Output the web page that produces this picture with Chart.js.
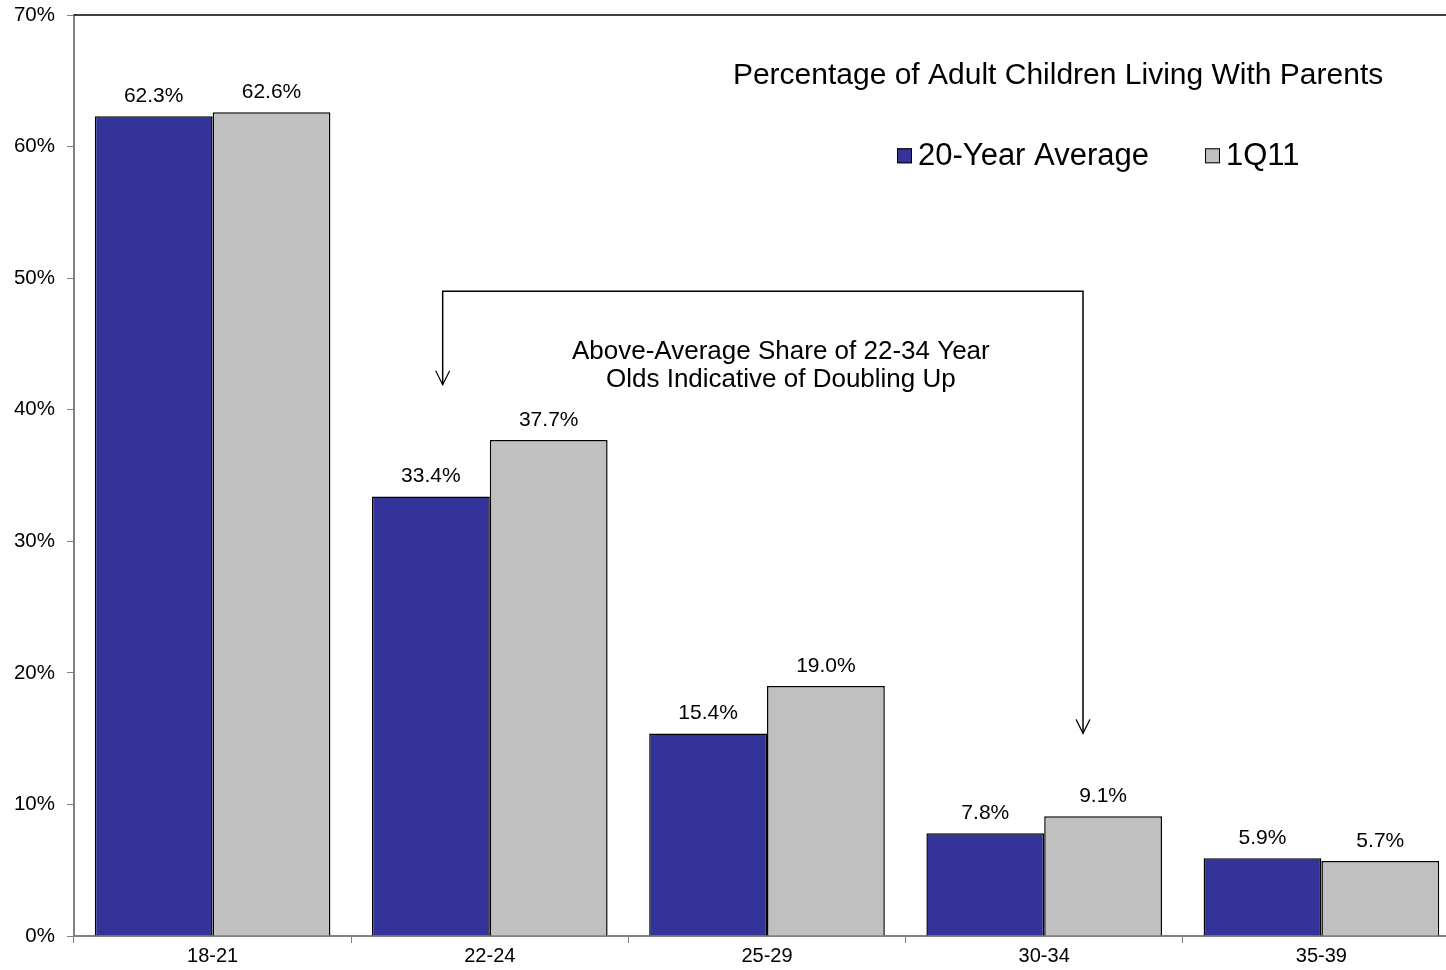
<!DOCTYPE html>
<html lang="en">
  <head>
    <meta charset="UTF-8" />
    <title>Adult Children Living With Parents</title>
    <script src="https://cdn.jsdelivr.net/npm/chart.js@4"></script>
    <style>
      body { margin: 0; overflow: hidden; background: #fff; }
      #wrap { width: 1460px; height: 970px; }
    </style>
  </head>
  <body>
    <div id="wrap"><canvas id="myChart"></canvas></div>

    <script>
      const ageGroups = ["18-21", "22-24", "25-29", "30-34", "35-39"];
      const avg20yr = [62.3, 33.4, 15.4, 7.8, 5.9];
      const q1_2011 = [62.6, 37.7, 19.0, 9.1, 5.7];
      const yTicks = [0, 10, 20, 30, 40, 50, 60, 70];

      const FONT = "Arial, 'Liberation Sans', sans-serif";

      // labels, title, legend and the bracket callout
      const extras = {
        id: "extras",
        afterDatasetsDraw(chart) {
          const { ctx, chartArea, scales } = chart;
          const x = scales.x, y = scales.y;
          ctx.save();

          // frame line along the top
          ctx.strokeStyle = "#000";
          ctx.lineWidth = 1.5;
          ctx.beginPath();
          ctx.moveTo(chartArea.left, chartArea.top);
          ctx.lineTo(chartArea.right, chartArea.top);
          ctx.stroke();

          // value labels
          ctx.fillStyle = "#000";
          ctx.font = "21px " + FONT;
          ctx.textAlign = "center";
          ctx.textBaseline = "middle";
          chart.data.datasets.forEach((ds, i) => {
            chart.getDatasetMeta(i).data.forEach((bar, j) => {
              ctx.fillText(ds.data[j].toFixed(1) + "%", bar.x, bar.y - 20);
            });
          });

          // title
          ctx.font = "30px " + FONT;
          ctx.fillText("Percentage of Adult Children Living With Parents",
            x.getPixelForValue(3.05), y.getPixelForValue(65.4));

          // legend
          const ly = y.getPixelForValue(59.3);
          ctx.font = "31px " + FONT;
          ctx.textAlign = "left";
          const items = [
            { label: chart.data.datasets[0].label, color: chart.data.datasets[0].backgroundColor, x: 897 },
            { label: chart.data.datasets[1].label, color: chart.data.datasets[1].backgroundColor, x: 1205 },
          ];
          items.forEach((it) => {
            ctx.fillStyle = it.color;
            ctx.fillRect(it.x, ly - 7.5, 15, 15);
            ctx.strokeStyle = "#000";
            ctx.lineWidth = 1;
            ctx.strokeRect(it.x + 0.5, ly - 7, 14, 14);
            ctx.fillStyle = "#000";
            ctx.fillText(it.label, it.x + 21, ly + 1);
          });

          // bracket with arrows
          const xl = x.getPixelForValue(0.83), xr = x.getPixelForValue(3.14);
          const yt = y.getPixelForValue(49.0);
          const yl = y.getPixelForValue(41.9), yr = y.getPixelForValue(15.4);
          ctx.strokeStyle = "#000";
          ctx.lineWidth = 1.5;
          ctx.beginPath();
          ctx.moveTo(xl, yl);
          ctx.lineTo(xl, yt);
          ctx.lineTo(xr, yt);
          ctx.lineTo(xr, yr);
          ctx.stroke();
          ctx.lineWidth = 1.2;
          [[xl, yl], [xr, yr]].forEach(([ax, ay]) => {
            ctx.beginPath();
            ctx.moveTo(ax - 7, ay - 14);
            ctx.lineTo(ax, ay);
            ctx.lineTo(ax + 7, ay - 14);
            ctx.stroke();
          });

          ctx.font = "26px " + FONT;
          ctx.textAlign = "center";
          ctx.fillStyle = "#000";
          const tx = x.getPixelForValue(2.05);
          ctx.fillText("Above-Average Share of 22-34 Year", tx, y.getPixelForValue(44.4));
          ctx.fillText("Olds Indicative of Doubling Up", tx, y.getPixelForValue(42.3));

          ctx.restore();
        },
      };

      new Chart(document.getElementById("myChart"), {
        type: "bar",
        data: {
          labels: ageGroups,
          datasets: [
            {
              label: "20-Year Average",
              data: avg20yr,
              backgroundColor: "#333399",
              borderColor: "#000",
              borderWidth: 1.5,
              borderSkipped: "bottom",
            },
            {
              label: "1Q11",
              data: q1_2011,
              backgroundColor: "#C0C0C0",
              borderColor: "#000",
              borderWidth: 1.5,
              borderSkipped: "bottom",
            },
          ],
        },
        options: {
          responsive: true,
          maintainAspectRatio: false,
          animation: false,
          layout: { padding: { top: 15, right: 0, bottom: 0, left: 0 } },
          plugins: {
            legend: { display: false },
            tooltip: { enabled: false },
          },
          datasets: { bar: { categoryPercentage: 0.85, barPercentage: 1.0 } },
          scales: {
            x: {
              afterFit: (s) => {
                s.height = 34;
                s.paddingLeft = 0;
                s.paddingRight = 0;
              },
              border: { color: "#808080", width: 2 },
              grid: { drawOnChartArea: false, tickLength: 7, color: "#808080", offset: true },
              ticks: { color: "#000", font: { family: FONT, size: 20 }, padding: 1 },
            },
            y: {
              min: 0,
              max: 70,
              afterFit: (s) => {
                s.width = 74;
                s.paddingTop = 0;
                s.paddingBottom = 0;
              },
              afterBuildTicks: (s) => { s.ticks = yTicks.map((v) => ({ value: v })); },
              border: { color: "#808080", width: 2 },
              grid: { drawOnChartArea: false, tickLength: 7, color: "#808080" },
              ticks: {
                color: "#000",
                font: { family: FONT, size: 20.5 },
                padding: 12,
                callback: (v) => v + "%",
              },
            },
          },
        },
        plugins: [extras],
      });
    </script>
  </body>
</html>
